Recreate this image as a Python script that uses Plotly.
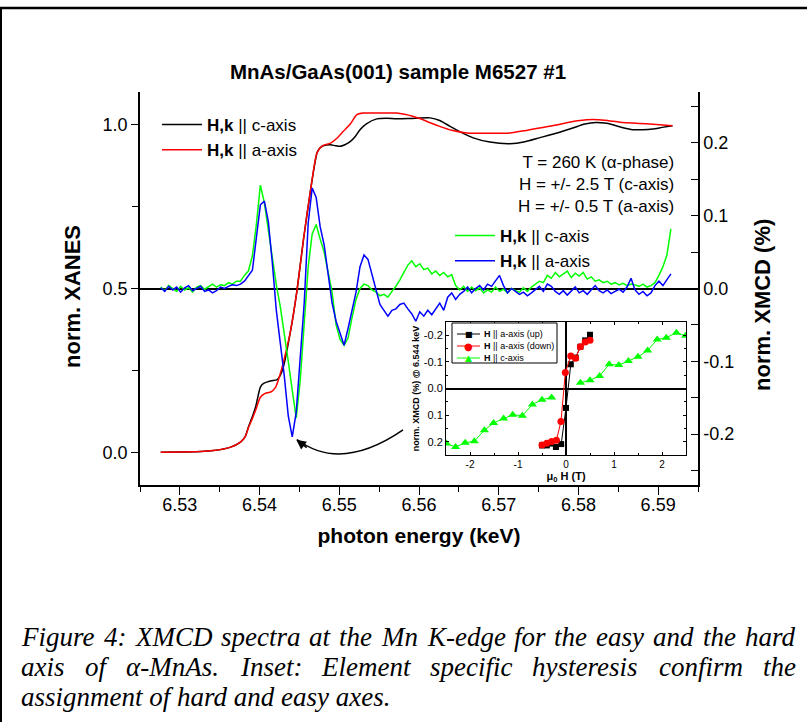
import plotly.graph_objects as go

# ---------------- data ----------------
# XANES (left axis)
xanes_c_energy = [6.5276, 6.5326, 6.5342, 6.5363, 6.5376, 6.5382, 6.5386, 6.5391, 6.5395, 6.5401,
                  6.5405, 6.5409, 6.5415, 6.5422, 6.5426, 6.5430, 6.5439, 6.5447, 6.5455, 6.5464,
                  6.5472, 6.5476, 6.5480, 6.5489, 6.5495, 6.5501, 6.5507, 6.5514, 6.5520, 6.5526,
                  6.5534, 6.5547, 6.5559, 6.5572, 6.5589, 6.5614, 6.5626, 6.5639, 6.5651, 6.5668,
                  6.5689, 6.5714, 6.5733, 6.5751, 6.5772, 6.5793, 6.5808, 6.5822, 6.5833, 6.5843,
                  6.5856, 6.5868, 6.5880, 6.5893, 6.5905, 6.5918]
xanes_c = [0.000, 0.002, 0.005, 0.015, 0.031, 0.048, 0.077, 0.109, 0.138, 0.199,
           0.210, 0.214, 0.218, 0.222, 0.235, 0.262, 0.372, 0.495, 0.648, 0.801,
           0.914, 0.930, 0.936, 0.939, 0.936, 0.934, 0.939, 0.949, 0.964, 0.985,
           1.003, 1.018, 1.020, 1.018, 1.019, 1.021, 1.013, 0.995, 0.979, 0.960,
           0.947, 0.942, 0.948, 0.960, 0.974, 0.990, 1.002, 1.007, 1.005, 1.000,
           0.991, 0.985, 0.985, 0.987, 0.992, 0.997]

xanes_a_energy = [6.5276, 6.5326, 6.5342, 6.5363, 6.5376, 6.5382, 6.5386, 6.5391, 6.5395, 6.5401,
                  6.5407, 6.5414, 6.5420, 6.5426, 6.5432, 6.5439, 6.5447, 6.5455, 6.5464, 6.5472,
                  6.5479, 6.5489, 6.5497, 6.5505, 6.5514, 6.5522, 6.5530, 6.5539, 6.5557, 6.5572,
                  6.5582, 6.5592, 6.5601, 6.5614, 6.5626, 6.5641, 6.5660, 6.5689, 6.5714, 6.5733,
                  6.5751, 6.5772, 6.5785, 6.5802, 6.5818, 6.5833, 6.5852, 6.5868, 6.5885, 6.5902,
                  6.5918]
xanes_a = [0.000, 0.002, 0.005, 0.015, 0.031, 0.048, 0.075, 0.103, 0.128, 0.168,
           0.180, 0.184, 0.198, 0.240, 0.296, 0.372, 0.495, 0.648, 0.801, 0.914,
           0.936, 0.944, 0.959, 0.980, 1.003, 1.031, 1.036, 1.036, 1.036, 1.036,
           1.032, 1.026, 1.019, 1.006, 0.995, 0.983, 0.975, 0.974, 0.975, 0.982,
           0.990, 0.999, 1.006, 1.013, 1.016, 1.014, 1.008, 1.005, 1.003, 1.000,
           0.997]

# XMCD (right axis, %)
xmcd_energy = [6.5276, 6.5281, 6.5286, 6.5291, 6.5296, 6.5301, 6.5306, 6.5311, 6.5316, 6.5321,
               6.5326, 6.5331, 6.5336, 6.5341, 6.5346, 6.5351, 6.5356, 6.5361, 6.5366, 6.5371,
               6.5376, 6.5381, 6.5386, 6.5391, 6.5396, 6.5401, 6.5406, 6.5411, 6.5416, 6.5421,
               6.5426, 6.5431, 6.5436, 6.5441, 6.5446, 6.5451, 6.5456, 6.5461, 6.5466, 6.5471,
               6.5476, 6.5481, 6.5486, 6.5491, 6.5496, 6.5501, 6.5506, 6.5511, 6.5516, 6.5521,
               6.5526, 6.5531, 6.5536, 6.5541, 6.5546, 6.5551, 6.5556, 6.5561, 6.5566, 6.5571,
               6.5576, 6.5581, 6.5586, 6.5591, 6.5596, 6.5601, 6.5606, 6.5611, 6.5616, 6.5621,
               6.5626, 6.5631, 6.5636, 6.5641, 6.5646, 6.5651, 6.5656, 6.5661, 6.5666, 6.5671,
               6.5676, 6.5681, 6.5686, 6.5691, 6.5696, 6.5701, 6.5706, 6.5711, 6.5716, 6.5721,
               6.5726, 6.5731, 6.5736, 6.5741, 6.5746, 6.5751, 6.5756, 6.5761, 6.5766, 6.5771,
               6.5776, 6.5781, 6.5786, 6.5791, 6.5796, 6.5801, 6.5806, 6.5811, 6.5816, 6.5821,
               6.5826, 6.5831, 6.5836, 6.5841, 6.5846, 6.5851, 6.5856, 6.5861, 6.5866, 6.5871,
               6.5876, 6.5881, 6.5886, 6.5891, 6.5896, 6.5901, 6.5906, 6.5911, 6.5916]
xmcd_c = [0.002, -0.003, 0.004, 0.000, -0.004, 0.003, -0.002, 0.001, -0.005, 0.002,
          0.004, -0.001, 0.003, 0.006, 0.002, 0.005, 0.004, 0.008, 0.006, 0.010,
          0.010, 0.018, 0.024, 0.045, 0.088, 0.142, 0.118, 0.080, 0.040, 0.005,
          -0.025, -0.060, -0.100, -0.140, -0.178, -0.126, -0.040, 0.030, 0.075, 0.088,
          0.068, 0.050, 0.022, -0.005, -0.050, -0.070, -0.078, -0.068, -0.040, -0.015,
          0.000, 0.006, 0.004, -0.002, -0.005, -0.010, -0.008, -0.012, -0.004, 0.003,
          0.012, 0.022, 0.032, 0.038, 0.030, 0.034, 0.026, 0.028, 0.020, 0.024,
          0.018, 0.022, 0.016, 0.019, 0.004, -0.002, 0.003, -0.004, 0.002, -0.003,
          0.001, -0.006, -0.002, -0.005, 0.002, -0.004, -0.001, -0.006, 0.000, -0.003,
          -0.005, 0.001, -0.004, 0.002, 0.006, 0.010, 0.008, 0.018, 0.014, 0.022,
          0.016, 0.020, 0.024, 0.015, 0.021, 0.017, 0.022, 0.013, 0.016, 0.010,
          0.012, 0.008, 0.010, 0.006, 0.008, 0.005, 0.007, 0.004, 0.006, 0.005,
          0.003, 0.006, 0.002, 0.004, 0.008, 0.018, 0.030, 0.046, 0.082]
xmcd_a = [0.001, -0.004, 0.003, -0.002, 0.002, -0.005, 0.001, 0.004, -0.003, 0.000,
          0.003, -0.004, -0.002, -0.006, -0.003, 0.002, 0.000, 0.003, 0.005, 0.004,
          0.006, 0.010, 0.018, 0.025, 0.070, 0.115, 0.120, 0.092, 0.035, -0.030,
          -0.075, -0.120, -0.175, -0.204, -0.170, -0.095, -0.020, 0.090, 0.138, 0.125,
          0.085, 0.060, 0.018, -0.020, -0.045, -0.060, -0.078, -0.055, -0.030, -0.005,
          0.030, 0.046, 0.040, 0.018, -0.002, -0.022, -0.030, -0.038, -0.030, -0.028,
          -0.022, -0.020, -0.028, -0.035, -0.045, -0.032, -0.038, -0.030, -0.036, -0.028,
          -0.020, -0.030, -0.012, -0.006, -0.015, -0.008, -0.004, 0.002, -0.006, 0.000,
          0.004, -0.002, 0.006, 0.003, 0.010, 0.018, 0.004, -0.006, 0.000, -0.004,
          -0.008, -0.005, -0.010, -0.006, -0.002, 0.003, -0.004, 0.006, 0.003, -0.004,
          -0.008, -0.003, -0.009, -0.004, 0.002, -0.006, -0.003, -0.008, -0.002, 0.004,
          -0.003, -0.006, -0.002, -0.007, -0.004, -0.001, -0.005, 0.002, 0.014, -0.002,
          -0.008, -0.004, -0.010, -0.006, 0.004, 0.010, 0.004, 0.012, 0.020]

# Inset: hysteresis
up_field = [-0.50, -0.40, -0.31, -0.21, -0.10, 0.00, 0.10, 0.20, 0.30, 0.40, 0.50]
up_xmcd = [0.214, 0.214, 0.207, 0.220, 0.209, 0.073, -0.091, -0.116, -0.157, -0.181, -0.202]
down_field = [-0.50, -0.40, -0.30, -0.20, -0.105, -0.014, 0.10, 0.20, 0.30, 0.40, 0.50]
down_xmcd = [0.212, 0.206, 0.199, 0.195, 0.124, -0.060, -0.122, -0.114, -0.157, -0.175, -0.181]
c_field = [-2.49, -2.30, -2.10, -1.91, -1.70, -1.51, -1.30, -1.11, -0.91, -0.70, -0.50, -0.30,
           None, 0.30, 0.50, 0.70, 0.90, 1.10, 1.30, 1.50, 1.70, 1.90, 2.09, 2.30, 2.49]
c_xmcd = [0.207, 0.220, 0.204, 0.198, 0.157, 0.130, 0.113, 0.099, 0.102, 0.060, 0.042, 0.034,
          None, -0.022, -0.031, -0.047, -0.091, -0.088, -0.103, -0.119, -0.143, -0.184, -0.191,
          -0.210, -0.198]

energy_ticks = [6.53, 6.54, 6.55, 6.56, 6.57, 6.58, 6.59]
xanes_ticks = [0.0, 0.5, 1.0]
xmcd_ticks = [-0.2, -0.1, 0.0, 0.1, 0.2]
xmcd_ticklabels = ["-0.2", "-0.1", "0.0", "0.1", "0.2"]
field_ticks = [-2, -1, 0, 1, 2]
field_ticklabels = ["-2", "-1", "0", "1", "2"]

# ---------------- layout geometry ----------------
W, H = 807, 722
ML, MR, MT, MB = 140, 109, 92, 237
PW, PH = W - ML - MR, H - MT - MB


def px(x):
    return (x - ML) / PW


def py(y):
    return (H - MB - y) / PH


FONT = "Arial, Liberation Sans, sans-serif"
SERIF = "Liberation Serif, Times New Roman, serif"

fig = go.Figure()

fig.add_trace(go.Scatter(x=xanes_c_energy, y=xanes_c, mode="lines", name="<b>H,k</b> || c-axis",
                         line=dict(color="black", width=1.5, shape="spline", smoothing=0.6),
                         legend="legend"))
fig.add_trace(go.Scatter(x=xanes_a_energy, y=xanes_a, mode="lines", name="<b>H,k</b> || a-axis",
                         line=dict(color="#ff0000", width=1.5, shape="spline", smoothing=0.6),
                         legend="legend"))
fig.add_trace(go.Scatter(x=xmcd_energy, y=xmcd_c, mode="lines", name="<b>H,k</b> || c-axis",
                         yaxis="y2", line=dict(color="#00ff00", width=1.5), legend="legend2"))
fig.add_trace(go.Scatter(x=xmcd_energy, y=xmcd_a, mode="lines", name="<b>H,k</b> || a-axis",
                         yaxis="y2", line=dict(color="#0000ff", width=1.5), legend="legend2"))

fig.add_trace(go.Scatter(x=up_field, y=up_xmcd, mode="lines+markers", name="H || a-axis (up)",
                         xaxis="x2", yaxis="y3", line=dict(color="black", width=1),
                         marker=dict(symbol="square", size=6, color="black"), showlegend=False))
fig.add_trace(go.Scatter(x=down_field, y=down_xmcd, mode="lines+markers", name="H || a-axis (down)",
                         xaxis="x2", yaxis="y3", line=dict(color="#ff0000", width=1),
                         marker=dict(symbol="circle", size=7, color="#ff0000"), showlegend=False))
fig.add_trace(go.Scatter(x=c_field, y=c_xmcd, mode="lines+markers", name="H || c-axis",
                         xaxis="x2", yaxis="y3", line=dict(color="#00ff00", width=1),
                         marker=dict(symbol="triangle-up", size=8, color="#00ff00"), showlegend=False))

axis_common = dict(showgrid=False, linecolor="black", tickcolor="black", showline=True)

fig.update_layout(
    width=W, height=H,
    margin=dict(l=ML, r=MR, t=MT, b=MB, pad=0),
    paper_bgcolor="white", plot_bgcolor="white",
    font=dict(family=FONT, color="black"),
    title=dict(text="<b>MnAs/GaAs(001) sample M6527 #1</b>", x=398 / W, xanchor="center",
               y=1 - 72 / H, yanchor="middle", font=dict(size=20.5, family=FONT, color="black")),
    xaxis=dict(**axis_common, domain=[0, 1], anchor="y", range=[6.525, 6.595],
               tickvals=energy_ticks, tickformat=".2f", ticks="outside", ticklen=8, tickwidth=1.2,
               linewidth=1.5, zeroline=False, tickfont=dict(size=18), ticklabelstandoff=-5,
               minor=dict(dtick=0.005, tick0=6.525, ticks="outside", ticklen=5, tickcolor="black"),
               title=dict(text="<b>photon energy (keV)</b>", font=dict(size=21), standoff=14)),
    xaxis3=dict(overlaying="x", side="top", anchor="y", range=[6.525, 6.595], showgrid=False,
                showline=True, linecolor="black", linewidth=1.5, tickvals=energy_ticks,
                ticks="inside", ticklen=8, tickcolor="black", showticklabels=False, zeroline=False),
    yaxis=dict(**axis_common, range=[-0.1, 1.1], tickvals=xanes_ticks, tickformat=".1f",
               ticks="outside", ticklen=7, tickwidth=1.2, linewidth=1.5, zeroline=False,
               tickfont=dict(size=18),
               minor=dict(tickvals=[0.25, 0.75], ticks="outside", ticklen=6, tickcolor="black")),
    yaxis2=dict(**axis_common, overlaying="y", side="right", anchor="x", range=[-0.27, 0.27],
                tickvals=xmcd_ticks, ticktext=xmcd_ticklabels, ticks="inside", ticklen=7,
                tickwidth=1.2, linewidth=1.5, tickfont=dict(size=18),
                zeroline=True, zerolinecolor="black", zerolinewidth=1.5,
                minor=dict(dtick=0.05, tick0=0, ticks="inside", ticklen=7, tickcolor="black")),
    xaxis2=dict(**axis_common, domain=[px(446), px(686)], anchor="y3", range=[-2.5, 2.5],
                tickvals=field_ticks, ticktext=field_ticklabels, ticks="inside", ticklen=3,
                mirror="allticks", linewidth=1, tickfont=dict(size=10),
                zeroline=True, zerolinecolor="black", zerolinewidth=1.5,
                minor=dict(dtick=0.5, ticks="inside", ticklen=2, tickcolor="black"),
                title=dict(text="<b>\u03bc<sub>0</sub> H (T)</b>", font=dict(size=11), standoff=0)),
    yaxis3=dict(**axis_common, domain=[py(455), py(322)], anchor="x2", range=[0.25, -0.25],
                tickvals=xmcd_ticks, ticktext=xmcd_ticklabels, ticks="inside", ticklen=3,
                mirror="allticks", linewidth=1, tickfont=dict(size=11),
                zeroline=True, zerolinecolor="black", zerolinewidth=1.5,
                minor=dict(dtick=0.05, tick0=0, ticks="inside", ticklen=2, tickcolor="black"),
                title=dict(text="<b>norm. XMCD (%) @ 6.544 keV</b>", font=dict(size=9), standoff=2)),
    legend=dict(x=px(157), y=py(107), xanchor="left", yanchor="top", bgcolor="rgba(0,0,0,0)",
                font=dict(size=17), tracegroupgap=0, itemwidth=40),
    legend2=dict(x=px(450), y=py(218), xanchor="left", yanchor="top", bgcolor="rgba(0,0,0,0)",
                 font=dict(size=17), tracegroupgap=0, itemwidth=40),
)

# main axis titles (placed like the original, slightly below the axis centre)
fig.add_annotation(x=px(72), y=py(297), xref="paper", yref="paper", showarrow=False,
                   text="<b>norm. XANES</b>", textangle=-90, xanchor="center", yanchor="middle",
                   font=dict(size=22, family=FONT, color="black"))
fig.add_annotation(x=px(762), y=py(305), xref="paper", yref="paper", showarrow=False,
                   text="<b>norm. XMCD (%)</b>", textangle=-90, xanchor="center", yanchor="middle",
                   font=dict(size=22, family=FONT, color="black"))

# ----- inset legend (drawn manually: compact box like the original) -----
inset_legend = [
    ("\u25a0", 8, "black", "<b>H</b> || a-axis (up)", 334),
    ("\u25cf", 10, "#ff0000", "<b>H</b> || a-axis (down)", 346),
    ("\u25b2", 9, "#00ff00", "<b>H</b> || c-axis", 358),
]
fig.add_shape(type="rect", xref="paper", yref="paper", x0=px(452), x1=px(557), y0=py(363),
              y1=py(323), line=dict(color="black", width=1), fillcolor="white")
for glyph, gsize, color, label, yy in inset_legend:
    fig.add_shape(type="line", xref="paper", yref="paper", x0=px(457), x1=px(480), y0=py(yy),
                  y1=py(yy), line=dict(color=color, width=1))
    fig.add_annotation(x=px(468.5), y=py(yy), xref="paper", yref="paper", showarrow=False,
                       text=glyph, xanchor="center", yanchor="middle", borderpad=0,
                       font=dict(size=gsize, color=color, family="DejaVu Sans"))
    fig.add_annotation(x=px(483), y=py(yy), xref="paper", yref="paper", showarrow=False,
                       text=label, xanchor="left", yanchor="middle", borderpad=0,
                       font=dict(size=9, color="black", family=FONT))

# frame of the figure page (top and left rules)
fig.add_shape(type="line", xref="paper", yref="paper", x0=px(0), x1=px(W), y0=py(8), y1=py(8),
              line=dict(color="black", width=2.5))
fig.add_shape(type="line", xref="paper", yref="paper", x0=px(1), x1=px(1), y0=py(8), y1=py(H),
              line=dict(color="black", width=2))

# curved arrow pointing to the XMCD minimum
fig.add_shape(type="path", xref="x", yref="y",
              path="M 6.5580,0.068 Q 6.5502,-0.062 6.5447,0.039",
              line=dict(color="black", width=1.5))
fig.add_annotation(x=6.5446, y=0.038, xref="x", yref="y", text="", showarrow=True,
                   ax=12, ay=9, arrowhead=2, arrowsize=1.3, arrowwidth=1.5, arrowcolor="black",
                   standoff=0)

fig.add_annotation(x=px(676), y=py(184.5), xref="paper", yref="paper", xanchor="right",
                   yanchor="middle", align="right", showarrow=False,
                   text="T = 260 K (\u03b1-phase)<br>H = +/- 2.5 T (c-axis)<br>H = +/- 0.5 T (a-axis)",
                   font=dict(size=17, family=FONT, color="black"))

# ---------------- caption (justified, Times italic) ----------------
TI = {' ': 250, 'a': 500, 'b': 500, 'c': 444, 'd': 500, 'e': 444, 'f': 278, 'g': 500, 'h': 500,
      'i': 278, 'j': 278, 'k': 444, 'l': 278, 'm': 722, 'n': 500, 'o': 500, 'p': 500, 'q': 500,
      'r': 389, 's': 389, 't': 278, 'u': 500, 'v': 444, 'w': 667, 'x': 444, 'y': 444, 'z': 389,
      'A': 611, 'C': 667, 'D': 722, 'E': 611, 'F': 611, 'I': 333, 'K': 667, 'M': 833, 'X': 611,
      '.': 250, ':': 333, '-': 333, '4': 500, '\u03b1': 560}
CAP_SIZE = 27


def word_w(w):
    return sum(TI.get(ch, 500) for ch in w) / 1000 * CAP_SIZE


caption_lines = [
    ("Figure 4: XMCD spectra at the Mn K-edge for the easy and the hard", True, 637),
    ("axis of \u03b1-MnAs. Inset: Element specific hysteresis confirm the", True, 667),
    ("assignment of hard and easy axes.", False, 697),
]
X_LEFT, X_RIGHT = 20, 795
for text, justify, ycen in caption_lines:
    if justify:
        words = text.split(" ")
        total = sum(word_w(w) for w in words)
        gap = (X_RIGHT - X_LEFT - total) / (len(words) - 1)
        xpos = X_LEFT
        for w in words:
            fig.add_annotation(x=px(xpos), y=py(ycen), xref="paper", yref="paper", xanchor="left",
                               yanchor="middle", showarrow=False, text=w, borderpad=0,
                               font=dict(size=CAP_SIZE, family=SERIF, style="italic", color="black"))
            xpos += word_w(w) + gap
    else:
        fig.add_annotation(x=px(X_LEFT), y=py(ycen), xref="paper", yref="paper", xanchor="left",
                           yanchor="middle", showarrow=False, text=text, borderpad=0,
                           font=dict(size=CAP_SIZE, family=SERIF, style="italic", color="black"))

fig.write_html("out.html", config={"displayModeBar": False},
               post_script="document.body.style.margin='0px';")
